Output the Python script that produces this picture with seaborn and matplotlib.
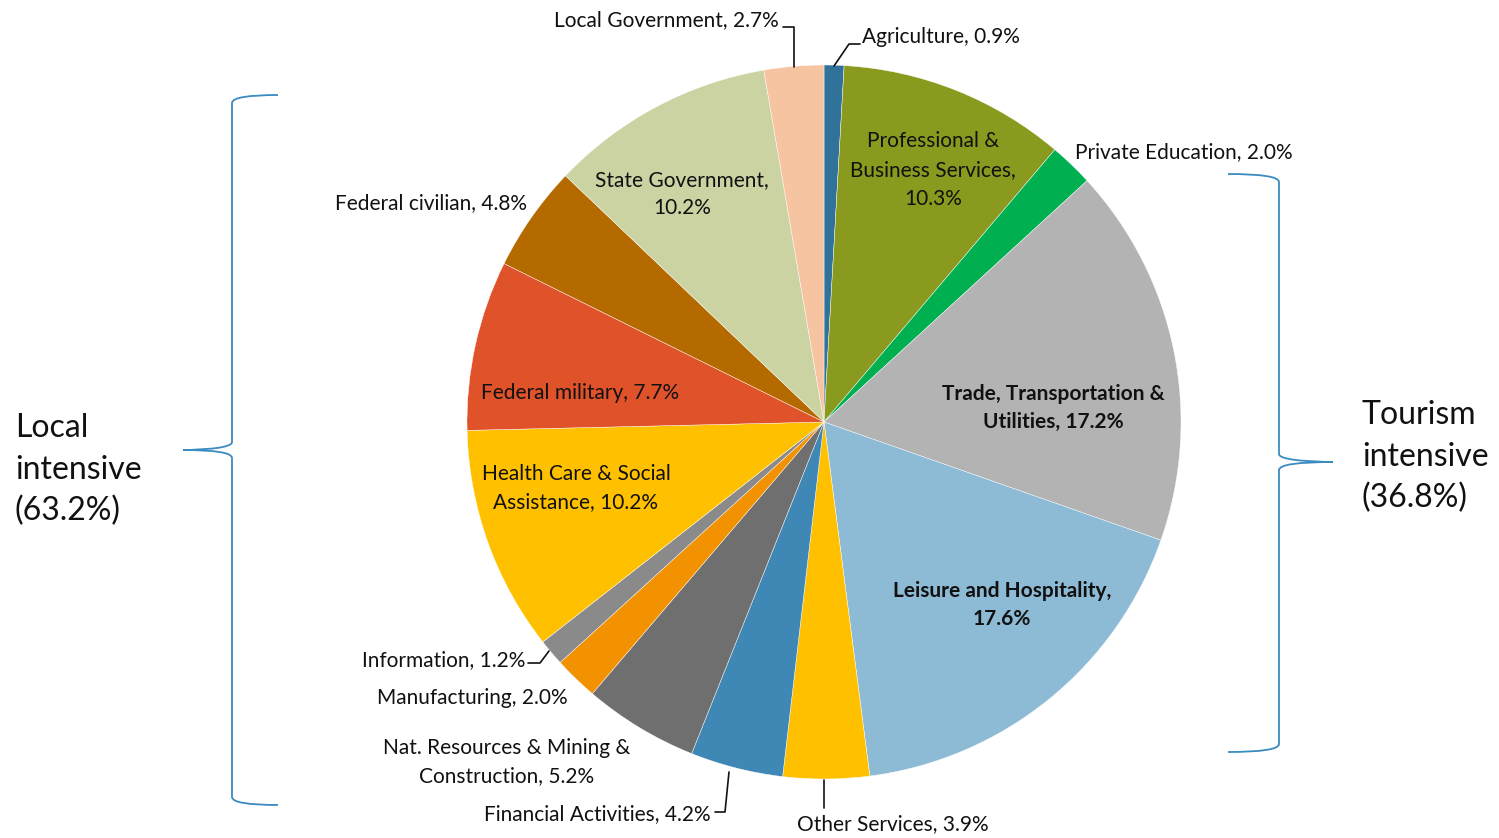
import matplotlib
matplotlib.use("Agg")
import matplotlib.pyplot as plt
import seaborn as sns
from matplotlib.path import Path
from matplotlib.patches import PathPatch

# slices, clockwise from 12 o'clock
sectors = [
    "Agriculture", "Professional & Business Services", "Private Education",
    "Trade, Transportation & Utilities", "Leisure and Hospitality",
    "Other Services", "Financial Activities", "Nat. Resources & Mining & Construction",
    "Manufacturing", "Information", "Health Care & Social Assistance",
    "Federal military", "Federal civilian", "State Government", "Local Government",
]
shares = [0.9, 10.3, 2.0, 17.2, 17.6, 3.9, 4.2, 5.2, 2.0, 1.2, 10.2, 7.7, 4.8, 10.2, 2.7]
colors = [
    "#31729A", "#8A9A1F", "#00B050", "#B3B3B3", "#8DBAD5",
    "#FFC000", "#3F88B5", "#6F6F6F", "#F39200", "#8A8A8A",
    "#FFC000", "#E0532A", "#B56A00", "#CCD3A2", "#F7C4A2",
]
display_labels = [
    "Agriculture, 0.9%", "Professional &\nBusiness Services,\n10.3%",
    "Private Education, 2.0%", "Trade, Transportation &\nUtilities, 17.2%",
    "Leisure and Hospitality,\n17.6%", "Other Services, 3.9%",
    "Financial Activities, 4.2%", "Nat. Resources & Mining &\nConstruction, 5.2%",
    "Manufacturing, 2.0%", "Information, 1.2%", "Health Care & Social\nAssistance, 10.2%",
    "Federal military, 7.7%", "Federal civilian, 4.8%", "State Government,\n10.2%",
    "Local Government, 2.7%",
]
groups = ["Local\nintensive\n(63.2%)", "Tourism\nintensive\n(36.8%)"]

sns.set_theme(style="white")
plt.rcParams["font.family"] = ["Lato", "DejaVu Sans"]

W, H = 1499, 838
fig = plt.figure(figsize=(W / 100, H / 100), dpi=100)
ax = fig.add_axes([0, 0, 1, 1])

def Y(y):
    return H - y

ax.pie(shares, colors=sns.color_palette(colors), startangle=90, counterclock=False,
       center=(824, Y(422)), radius=357, frame=True,
       wedgeprops=dict(edgecolor="white", linewidth=0.3))
ax.set_xlim(0, W)
ax.set_ylim(0, H)
ax.axis("off")

fs = 15
# (x, y, ha, bold) label anchors in pixel space
pos = [
    (862, 37, "left", False), (933, 170, "center", False), (1075, 152, "left", False),
    (1053, 408, "center", True), (1002, 605, "center", True), (893, 824, "center", False),
    (711, 814, "right", False), (507, 762, "center", False), (472, 698, "center", False),
    (525, 660, "right", False), (576, 488, "center", False), (580, 393, "center", False),
    (527, 203, "right", False), (682, 194, "center", False), (779, 20, "right", False),
]
for lab, (x, y, ha, b) in zip(display_labels, pos):
    ax.text(x, Y(y), lab, ha=ha, va="center", fontsize=fs, color="#111111",
            fontweight="bold" if b else "normal", linespacing=1.55)

# leader lines
leaders = [
    [(834, 66), (849, 44), (860, 44)],
    [(794, 67), (794, 27), (783, 27)],
    [(549, 651), (540, 663), (528, 663)],
    [(729, 772), (725, 812), (715, 812)],
    [(824, 780), (824, 808)],
]
for pts in leaders:
    xs = [p[0] for p in pts]
    ys = [Y(p[1]) for p in pts]
    ax.plot(xs, ys, color="#111111", lw=1.2)

def brace(x_end, x_bar, x_tip, y_top, y_mid, y_bot):
    c = 8
    verts = [
        (x_end, Y(y_top)), (x_bar, Y(y_top)), (x_bar, Y(y_top + c)),
        (x_bar, Y(y_mid - c)),
        (x_bar, Y(y_mid)), (x_tip, Y(y_mid)), (x_tip, Y(y_mid)),
        (x_bar, Y(y_mid)), (x_bar, Y(y_mid + c)),
        (x_bar, Y(y_bot - c)),
        (x_bar, Y(y_bot)), (x_end, Y(y_bot)),
    ]
    codes = [Path.MOVETO, Path.CURVE3, Path.CURVE3, Path.LINETO,
             Path.CURVE4, Path.CURVE4, Path.CURVE4,
             Path.CURVE3, Path.CURVE3, Path.LINETO, Path.CURVE3, Path.CURVE3]
    ax.add_patch(PathPatch(Path(verts, codes), fill=False, edgecolor="#3A8BC0", lw=1.3))

brace(278, 232, 183, 95, 450, 805)
brace(1228, 1279, 1333, 174, 462, 752)

ax.text(15, Y(470), groups[0], ha="left", va="center", fontsize=23, color="#111111", linespacing=1.47)
ax.text(1362, Y(457), groups[1], ha="left", va="center", fontsize=23, color="#111111", linespacing=1.47)

fig.savefig("out.png", dpi=100)
